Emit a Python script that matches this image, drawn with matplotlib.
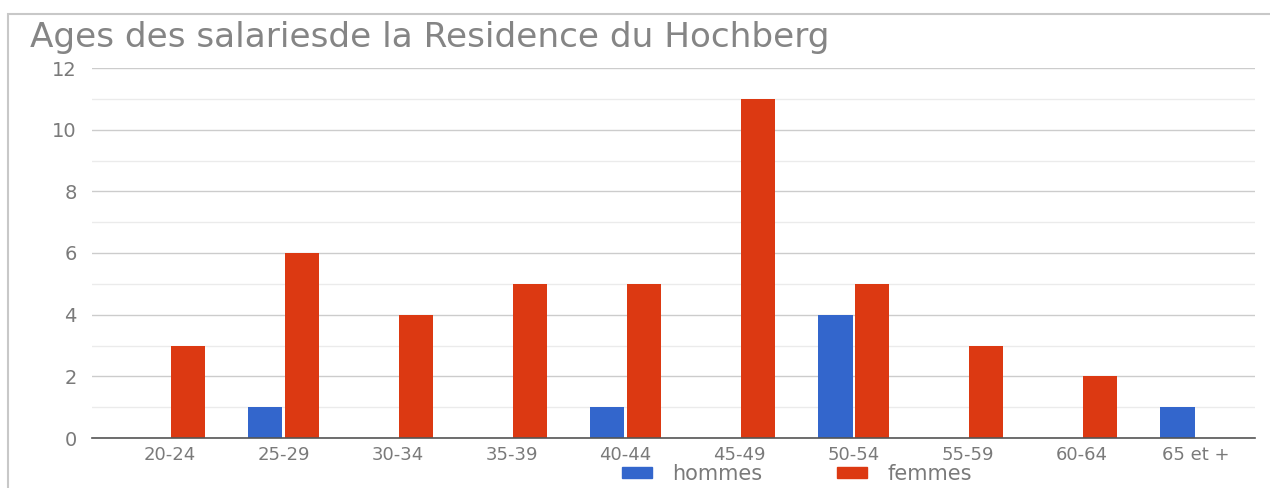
import matplotlib
matplotlib.use("Agg")
import matplotlib.pyplot as plt
import numpy as np
from matplotlib.patches import Rectangle, Patch
from matplotlib.ticker import MultipleLocator

categories = ["20-24", "25-29", "30-34", "35-39", "40-44", "45-49", "50-54", "55-59", "60-64", "65 et +"]
hommes = [0, 1, 0, 0, 1, 0, 4, 0, 0, 1]
femmes = [3, 6, 4, 5, 5, 11, 5, 3, 2, 0]
title = "Ages des salariesde la Residence du Hochberg"

plt.rcParams['font.family'] = ['DejaVu Sans']
blue = "#3366cc"
red = "#dc3912"
gray = "#7a7a7a"

fig = plt.figure(figsize=(12.7, 4.88), dpi=100)
ax = fig.add_axes([92/1270, 1-438/488, (1255-92)/1270, (438-68)/488])

x = np.arange(len(categories))
w = 0.30
g = 0.01
ax.bar(x - w/2 - g, hommes, width=w, color=blue, zorder=3)
ax.bar(x + w/2 + g, femmes, width=w, color=red, zorder=3)

ax.set_xlim(-0.68, 9.52)
ax.set_ylim(0, 12)
ax.yaxis.set_major_locator(MultipleLocator(2))
ax.yaxis.set_minor_locator(MultipleLocator(1))
ax.grid(axis='y', which='major', color='#cccccc', linewidth=1, zorder=0)
ax.grid(axis='y', which='minor', color='#ebebeb', linewidth=1, zorder=0)
ax.set_xticks(x)
ax.set_xticklabels(categories)
for s in ['top', 'right', 'left']:
    ax.spines[s].set_visible(False)
ax.spines['bottom'].set_color('#555555')
ax.spines['bottom'].set_linewidth(1.2)
ax.spines['bottom'].set_zorder(4)
ax.tick_params(axis='y', which='both', length=0, colors=gray, labelsize=14, pad=11)
ax.tick_params(axis='x', which='both', length=0, colors=gray, labelsize=13, pad=6)

t = fig.text(30/1270, 1-38/488, title, fontsize=20, color="#858585", ha='left', va='center')
renderer = fig.canvas.get_renderer()
wpx = t.get_window_extent(renderer).width
t.set_fontsize(20 * 800 / wpx)

handles = [Patch(color=blue, label='hommes'), Patch(color=red, label='femmes')]
fs = 15
fpx = fs * 100 / 72
fig.legend(handles=handles, loc='center left', bbox_to_anchor=(622/1270, 1-474/488), ncol=2,
           frameon=False, fontsize=fs, labelcolor=gray, handlelength=30/fpx, handleheight=10/fpx,
           handletextpad=20/fpx, columnspacing=75/fpx, borderpad=0, borderaxespad=0)

# frame of screenshot
fig.add_artist(Rectangle((8/1270, -0.1), 1.2, 1 - 14/488 + 0.1, transform=fig.transFigure,
                         fill=False, edgecolor='#c8c8c8', linewidth=1.5))

fig.savefig("out.png", dpi=100)
